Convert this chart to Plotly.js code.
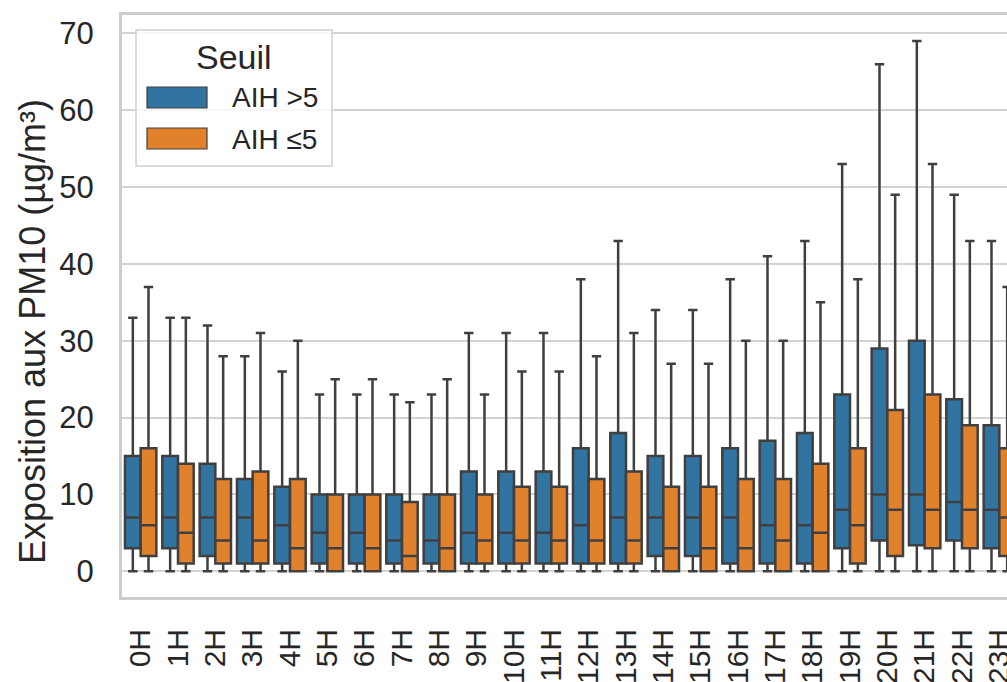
<!DOCTYPE html>
<html>
<head>
<meta charset="utf-8">
<script src="https://cdn.plot.ly/plotly-3.0.1.min.js"></script>
<style>
html, body { margin:0; padding:0; overflow:hidden; background:#fff; }
#chart { width:1028px; height:682px; }
</style>
</head>
<body>
<div id="chart"></div>
<script>
const hours = ["0H","1H","2H","3H","4H","5H","6H","7H","8H","9H","10H","11H","12H","13H","14H","15H","16H","17H","18H","19H","20H","21H","22H","23H"];
const seriesNames = ["AIH >5", "AIH \u22645"];

// AIH >5
const highQ1     = [3,3,2,1,1,1,1,1,1,1,1,1,1,1,2,2,1,1,1,3,4,3.4,4,3];
const highMedian = [7,7,7,7,6,5,5,4,4,5,5,5,6,7,7,7,7,6,6,8,10,10,9,8];
const highQ3     = [15,15,14,12,11,10,10,10,10,13,13,13,16,18,15,15,16,17,18,23,29,30,22.4,19];
const highLow    = [0,0,0,0,0,0,0,0,0,0,0,0,0,0,0,0,0,0,0,0,0,0,0,0];
const highUp     = [33,33,32,28,26,23,23,23,23,31,31,31,38,43,34,34,38,41,43,53,66,69,49,43];

// AIH <=5
const lowQ1     = [2,1,1,1,0,0,0,0,0,1,1,1,1,1,0,0,0,0,0,1,2,3,3,2];
const lowMedian = [6,5,4,4,3,3,3,2,3,4,4,4,4,4,3,3,3,4,5,6,8,8,8,7];
const lowQ3     = [16,14,12,13,12,10,10,9,10,10,11,11,12,13,11,11,12,12,14,16,21,23,19,16];
const lowLow    = [0,0,0,0,0,0,0,0,0,0,0,0,0,0,0,0,0,0,0,0,0,0,0,0];
const lowUp     = [37,33,28,31,30,25,25,22,25,23,26,26,28,31,27,27,30,30,35,38,49,53,43,37];

const yTicks = [0,10,20,30,40,50,60,70];
const colors = ["#3274a1", "#e1812c"];
const edge = "#3f3f3f";
const FONT = "Liberation Sans, Arial, sans-serif";

function boxTrace(name, color, q1, med, q3, lo, up) {
  return {
    type: "box", name: name, x: hours,
    q1: q1, median: med, q3: q3, lowerfence: lo, upperfence: up,
    boxpoints: false, fillcolor: color,
    line: { color: edge, width: 2.5 },
    whiskerwidth: 0.6, hoverinfo: "skip", showlegend: false
  };
}

const data = [
  boxTrace(seriesNames[0], colors[0], highQ1, highMedian, highQ3, highLow, highUp),
  boxTrace(seriesNames[1], colors[1], lowQ1, lowMedian, lowQ3, lowLow, lowUp)
];

const layout = {
  width: 1028, height: 682,
  margin: { l: 122, r: 10, t: 15, b: 85 },
  paper_bgcolor: "#fff", plot_bgcolor: "#fff",
  boxmode: "group", boxgap: 0.16, boxgroupgap: 0,
  font: { family: FONT, color: "#262626", size: 29 },
  xaxis: {
    type: "category", tickangle: -90, showgrid: false, zeroline: false,
    showline: true, mirror: true, linecolor: "#cccccc", linewidth: 3,
    ticks: "", ticklabelstandoff: 17, tickfont: { size: 30 }
  },
  yaxis: {
    range: [-3.35, 72.4], tickvals: yTicks, showgrid: true, gridcolor: "#d3d3d3", gridwidth: 2,
    zeroline: false, showline: true, mirror: true, linecolor: "#cccccc", linewidth: 3,
    ticks: "", ticklabelstandoff: 19, tickfont: { size: 31 }
  },
  shapes: [
    { type: "rect", xref: "paper", yref: "paper", layer: "above",
      x0: (136 - 122) / 896, x1: (332 - 122) / 896,
      y0: (597 - 166) / 582, y1: (597 - 30) / 582,
      line: { color: "#d0d0d0", width: 1.5 }, fillcolor: "rgba(255,255,255,0.8)" },
    { type: "rect", xref: "paper", yref: "paper", layer: "above",
      x0: (147 - 122) / 896, x1: (207 - 122) / 896,
      y0: (597 - 108) / 582, y1: (597 - 87) / 582,
      line: { color: edge, width: 1.2 }, fillcolor: colors[0] },
    { type: "rect", xref: "paper", yref: "paper", layer: "above",
      x0: (147 - 122) / 896, x1: (207 - 122) / 896,
      y0: (597 - 149) / 582, y1: (597 - 128) / 582,
      line: { color: edge, width: 1.2 }, fillcolor: colors[1] }
  ],
  annotations: [
    { xref: "paper", yref: "paper", x: (234 - 122) / 896, y: (597 - 57) / 582,
      text: "Seuil", showarrow: false, xanchor: "center", yanchor: "middle",
      font: { size: 34, color: "#262626", family: FONT } },
    { xref: "paper", yref: "paper", x: (230 - 122) / 896, y: (597 - 97) / 582,
      text: seriesNames[0], showarrow: false, xanchor: "left", yanchor: "middle",
      font: { size: 28, color: "#262626", family: FONT } },
    { xref: "paper", yref: "paper", x: (230 - 122) / 896, y: (597 - 139) / 582,
      text: seriesNames[1], showarrow: false, xanchor: "left", yanchor: "middle",
      font: { size: 28, color: "#262626", family: FONT } },
    { xref: "paper", yref: "paper", x: (32 - 122) / 896, y: (597 - 332) / 582,
      text: "Exposition aux PM10 (\u00b5g/m\u00b3)", showarrow: false, textangle: -90,
      xanchor: "center", yanchor: "middle",
      font: { size: 36, color: "#262626", family: FONT } }
  ]
};

Plotly.newPlot("chart", data, layout, { displayModeBar: false, staticPlot: true });
</script>
</body>
</html>
